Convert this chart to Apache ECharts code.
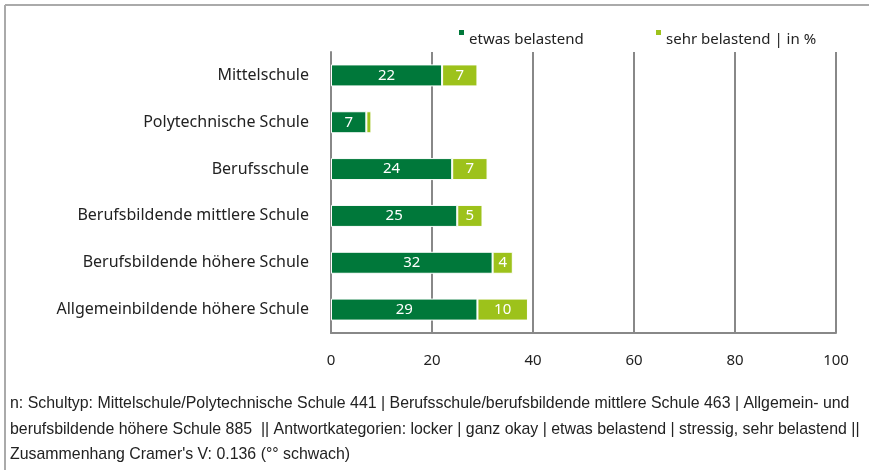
<!DOCTYPE html>
<html><head><meta charset="utf-8">
<script src="https://cdn.jsdelivr.net/npm/echarts@6/dist/echarts.min.js"></script>
<style>html,body{margin:0;padding:0;background:#fff}#c{width:869px;height:470px}</style>
</head><body><div id="c"></div>
<script>
const categories = ["Mittelschule","Polytechnische Schule","Berufsschule","Berufsbildende mittlere Schule","Berufsbildende höhere Schule","Allgemeinbildende höhere Schule"];
const etwas = [22, 7, 24, 25, 32, 29];
const sehr = [7, 1, 7, 5, 4, 10];
const sehrLabels = ["7", "", "7", "5", "4", "10"];
const xTicks = [0, 20, 40, 60, 80, 100];
const footnote = [
  "n: Schultyp: Mittelschule/Polytechnische Schule 441 | Berufsschule/berufsbildende mittlere Schule 463 | Allgemein- und",
  "berufsbildende höhere Schule 885  || Antwortkategorien: locker | ganz okay | etwas belastend | stressig, sehr belastend ||",
  "Zusammenhang Cramer's V: 0.136 (°° schwach)"
];
const FONT = "Noto Sans";
const chart = echarts.init(document.getElementById('c'), null, {renderer:'canvas'});
const icon = 'path://M0,0H5V5H0Z M0,19H5';
chart.setOption({
  backgroundColor:'#fff',
  animation:false,
  textStyle:{fontFamily:FONT},
  legend:[
    {data:[{name:'etwas belastend'}], left:459, top:30, padding:0, icon:icon, itemWidth:5, itemHeight:19,
     itemStyle:{borderWidth:0},
     textStyle:{fontFamily:FONT, fontSize:15, color:'#222'}},
    {data:[{name:'sehr belastend'}], left:656, top:30, padding:0, icon:icon, itemWidth:5, itemHeight:19,
     itemStyle:{borderWidth:0},
     formatter:()=> 'sehr belastend | in %',
     textStyle:{fontFamily:FONT, fontSize:15, color:'#222'}}
  ],
  grid:{left:331, right:33, top:52, bottom:137, containLabel:false},
  xAxis:{type:'value', min:0, max:100, interval:20,
    axisLine:{show:true, lineStyle:{color:'#888', width:2}},
    axisTick:{show:false},
    splitLine:{show:true, lineStyle:{color:'#888', width:2}},
    axisLabel:{fontFamily:FONT, fontSize:15, color:'#222', margin:20,
      formatter:v=> xTicks.includes(v)? String(v):''}
  },
  yAxis:{type:'category', inverse:true, data:categories,
    axisLine:{show:true, lineStyle:{color:'#888', width:2}},
    axisTick:{show:false},
    axisLabel:{fontFamily:FONT, fontSize:16, color:'#222', margin:22}
  },
  series:[
    {name:'etwas belastend', type:'bar', stack:'a', data:etwas, barWidth:22,
     itemStyle:{color:'#00783a', borderColor:'#fff', borderWidth:1},
     label:{show:true, position:'inside', color:'#fff', fontFamily:FONT, fontSize:15}},
    {name:'sehr belastend', type:'bar', stack:'a', data:sehr, barWidth:22,
     itemStyle:{color:'#9dc21b', borderColor:'#fff', borderWidth:1},
     label:{show:true, position:'inside', color:'#fff', fontFamily:FONT, fontSize:15,
       formatter:p=>sehrLabels[p.dataIndex]}}
  ],
  graphic:[
    {type:'line', shape:{x1:5,y1:5,x2:869,y2:5}, style:{stroke:'#aaa', lineWidth:2}},
    {type:'line', shape:{x1:5,y1:5,x2:5,y2:470}, style:{stroke:'#aaa', lineWidth:2}},
    {type:'text', left:10, top:396, style:{text:footnote[0], font:'15.9px "Liberation Sans"', fill:'#222'}},
    {type:'text', left:10, top:422, style:{text:footnote[1], font:'15.9px "Liberation Sans"', fill:'#222'}},
    {type:'text', left:10, top:447, style:{text:footnote[2], font:'15.9px "Liberation Sans"', fill:'#222'}}
  ]
});
</script></body></html>
